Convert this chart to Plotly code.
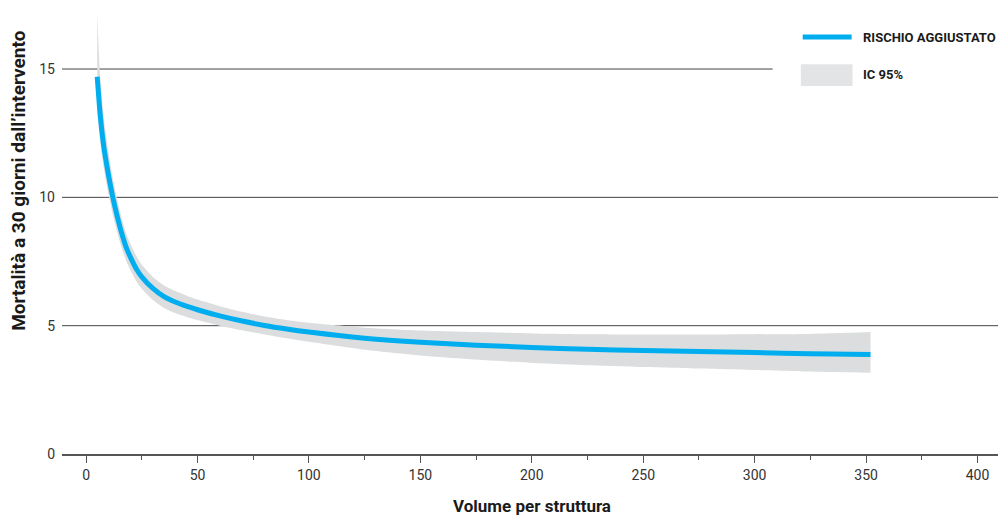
import plotly.graph_objects as go

# Data
volume = [5, 6, 7, 8, 9, 10, 12, 14, 16, 18, 20, 22.5, 25, 30, 35, 40, 45, 50, 60, 70, 80, 90,
          100, 125, 150, 175, 200, 225, 250, 275, 300, 325, 352]
risk = [14.7, 13.55, 12.65, 11.95, 11.4, 10.9, 10.0, 9.25, 8.6, 8.05, 7.65, 7.22, 6.9, 6.45, 6.13,
        5.92, 5.76, 5.62, 5.38, 5.18, 5.01, 4.87, 4.75, 4.51, 4.35, 4.24, 4.15, 4.08, 4.03, 3.99,
        3.95, 3.91, 3.88]
ci_upper = [17.2, 15.15, 13.95, 13.05, 12.4, 11.8, 10.75, 9.91, 9.2, 8.6, 8.17, 7.72, 7.37, 6.9, 6.57,
            6.35, 6.18, 6.02, 5.76, 5.54, 5.36, 5.22, 5.11, 4.92, 4.81, 4.75, 4.70, 4.67, 4.66, 4.66,
            4.67, 4.68, 4.75]
ci_lower = [13.3, 12.45, 11.7, 11.1, 10.6, 10.15, 9.32, 8.63, 8.03, 7.52, 7.15, 6.74, 6.44, 6.0, 5.69,
            5.49, 5.34, 5.22, 5.0, 4.82, 4.66, 4.51, 4.37, 4.06, 3.84, 3.68, 3.55, 3.46, 3.39, 3.33,
            3.27, 3.21, 3.17]

x_ticks = [0, 50, 100, 150, 200, 250, 300, 350, 400]
y_ticks = [0, 5, 10, 15]

BLUE = "#00AEEF"
BAND = "#DCDDDE"
FONT = "Roboto, Liberation Sans, sans-serif"

fig = go.Figure()
fig.add_trace(go.Scatter(x=volume, y=ci_lower, mode="lines",
                         line=dict(width=0, shape="spline", smoothing=0.6),
                         hoverinfo="skip", showlegend=False))
fig.add_trace(go.Scatter(x=volume, y=ci_upper, mode="lines",
                         line=dict(width=0, shape="spline", smoothing=0.6),
                         fill="tonexty", fillcolor=BAND, name="IC 95%", showlegend=False))
fig.add_trace(go.Scatter(x=volume, y=risk, mode="lines",
                         line=dict(color=BLUE, width=5, shape="spline", smoothing=0.6),
                         name="RISCHIO AGGIUSTATO", showlegend=False))

# horizontal gridlines (15 line stops before the legend)
for v in y_ticks[1:]:
    fig.add_shape(type="line", xref="paper", yref="y", x0=0,
                  x1=(0.756 if v == 15 else 1), y0=v, y1=v,
                  line=dict(color="#444", width=1), layer="below")

# custom legend
fig.add_shape(type="line", xref="paper", yref="paper", x0=0.788, x1=0.840, y0=0.939, y1=0.939,
              line=dict(color=BLUE, width=5))
fig.add_shape(type="rect", xref="paper", yref="paper", x0=0.786, x1=0.841, y0=0.829, y1=0.878,
              fillcolor="#E3E4E5", line=dict(width=0))
fig.add_annotation(text="<b>RISCHIO AGGIUSTATO</b>", xref="paper", yref="paper", x=0.850, y=0.939,
                   xanchor="left", yanchor="middle", showarrow=False,
                   font=dict(family=FONT, size=13, color="#1a1a1a"))
fig.add_annotation(text="<b>IC 95%</b>", xref="paper", yref="paper", x=0.850, y=0.854,
                   xanchor="left", yanchor="middle", showarrow=False,
                   font=dict(family=FONT, size=13, color="#1a1a1a"))

# axis titles
fig.add_annotation(text="<b>Volume per struttura</b>", xref="paper", yref="paper", x=0.5, y=-0.117,
                   xanchor="center", yanchor="middle", showarrow=False,
                   font=dict(family=FONT, size=17, color="#1a1a1a"))
fig.add_annotation(text="<b>Mortalità a 30 giorni dall’intervento</b>", xref="paper", yref="paper",
                   x=-0.047, y=0.617, xanchor="center", yanchor="middle", textangle=-90,
                   showarrow=False, font=dict(family=FONT, size=19, color="#1a1a1a"))

fig.update_layout(
    width=998, height=507,
    margin=dict(l=54, r=4, t=2, b=61),
    paper_bgcolor="white", plot_bgcolor="white",
    font=dict(family=FONT, size=14, color="#333"),
    showlegend=False,
)
fig.update_xaxes(range=[-10.8, 411], tickvals=x_ticks, ticks="outside", ticklen=7,
                 tickcolor="#555", tickwidth=1, showgrid=False, zeroline=False,
                 showline=True, linecolor="#555", linewidth=2,
                 minor=dict(dtick=25, tick0=0, ticks="outside", ticklen=4, tickcolor="#555"),
                 tickfont=dict(family=FONT, size=14, color="#333"))
fig.update_yaxes(range=[0, 17.3], tickvals=y_ticks, showgrid=False, zeroline=False,
                 showline=False, ticks="", ticklabelstandoff=6,
                 tickfont=dict(family=FONT, size=14, color="#333"))

fig.write_html("out.html")
